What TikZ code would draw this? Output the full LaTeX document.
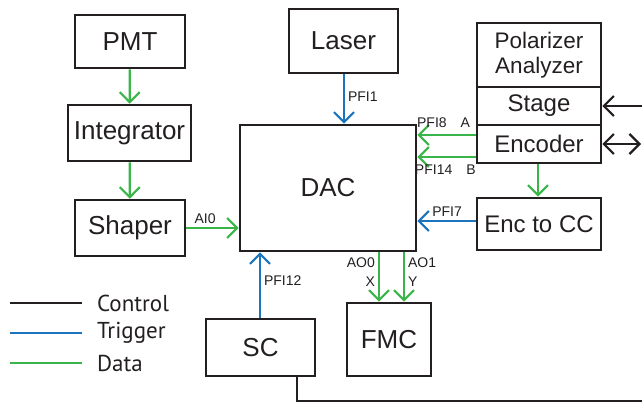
\documentclass[tikz,border=0pt]{standalone}
\usepackage{fontspec}
\setmainfont{Liberation Sans}
\newfontfamily\legendfont{PT Sans}
\usetikzlibrary{arrows.meta, positioning}
\definecolor{cblack}{HTML}{231F20}
\definecolor{cblue}{HTML}{1C75BC}
\definecolor{cgreen}{HTML}{39B54A}
\tikzset{
  every picture/.style={line width=2.2pt},
  box/.style={draw=cblack, line width=2.6pt, text=cblack, inner sep=0pt, align=center, font=\fontsize{26}{30}\selectfont},
  rbox/.style={box, minimum width=124pt, font=\fontsize{24}{27}\selectfont},
  tip/.style={-{Straight Barb[length=10pt, width=20pt]}},
  ctrl/.style={draw=cblack},
  trig/.style={draw=cblue, tip},
  data/.style={draw=cgreen, tip},
  note/.style={font=\fontsize{14}{17}\selectfont, text=cblack, inner sep=3pt},
  legend/.style={font=\legendfont\fontsize{23}{26}\selectfont, text=cblack, inner sep=0pt},
}

\begin{document}
\begin{tikzpicture}[x=1pt, y=-1pt]
  \useasboundingbox (0,0) rectangle (642,403);
  % left chain
  \node[box, minimum width=110pt, minimum height=53pt] (pmt) at (130,41.5) {PMT};
  \node[box, minimum width=123pt, minimum height=56pt] (integ) at (129.5,133) {Integrator};
  \node[box, minimum width=110pt, minimum height=56pt] (shaper) at (130,228) {Shaper};
  % centre
  \node[box, minimum width=176pt, minimum height=126pt] (dac) at (328,188) {DAC};
  \node[box, minimum width=109pt, minimum height=64pt] (laser) at (343.5,41) {Laser};
  \node[box, minimum width=109pt, minimum height=57pt] (sc) at (260.5,347.5) {SC};
  \node[box, minimum width=84pt, minimum height=73pt] (fmc) at (389,339.5) {FMC};
  % right stack
  \node[rbox, minimum height=64pt, font=\fontsize{22.5}{25}\selectfont] (polar) at (539,55) {Polarizer\\Analyzer};
  \node[rbox, minimum height=38pt] (stage) at (539,106) {Stage};
  \node[rbox, minimum height=38pt] (enc) at (539,144) {Encoder};
  \node[rbox, minimum height=52pt] (enccc) at (539,224) {Enc to CC};
  \coordinate (stagein) at (642,106);
  \coordinate (encout) at (641,144);
  \coordinate (scout) at (642,401);

  % data
  \draw[data] (pmt) -- (integ);
  \draw[data] (integ) -- (shaper);
  \draw[data] (shaper.east |- 0,228) -- node[note, above, pos=0.36] {AI0} (dac.west |- 0,228);
  \draw[data] ([yshift=9pt]enc.west) -- node[note, above, pos=0.55, yshift=3pt] {PFI8\quad A} ([yshift=9pt]enc.west -| dac.east);
  \draw[data] ([yshift=-13pt]enc.west) -- node[note, below, pos=0.52, yshift=-4pt] {PFI14\quad B} ([yshift=-13pt]enc.west -| dac.east);
  \draw[data] (enc.south -| 538,0) -- (enccc.north -| 538,0);
  \draw[data] ([xshift=-10pt]fmc.north |- dac.south) -- node[note, left, pos=0.4, align=right] {AO0\\[2pt]X} ([xshift=-10pt]fmc.north);
  \draw[data] ([xshift=15pt]fmc.north |- dac.south) -- node[note, right, pos=0.4, align=left] {AO1\\[2pt]Y} ([xshift=15pt]fmc.north);
  % trigger
  \draw[trig] (laser.south -| 344,0) -- node[note, right, pos=0.46] {PFI1} (dac.north -| 344,0);
  \draw[trig] ([yshift=3pt]enccc.west) -- node[note, above, pos=0.49] {PFI7} ([yshift=3pt]enccc.west -| dac.east);
  \draw[trig] (sc.north -| 260,0) -- node[note, right, pos=0.57] {PFI12} (dac.south -| 260,0);
  % control
  \draw[ctrl, tip] (stagein) -- (stage.east);
  \draw[ctrl, {Straight Barb[length=10pt, width=20pt]}-{Straight Barb[length=10pt, width=20pt]}] (enc.east) -- (encout);
  \draw[ctrl] (sc.south -| 297,0) |- (scout);

  % legend
  \node[legend, anchor=west] (lgctrl) at (96,303) {Control};
  \node[legend, anchor=west] (lgtrig) at (96,333) {Trigger};
  \node[legend, anchor=west] (lgdata) at (96,363) {Data};
  \draw[ctrl] ([xshift=-86pt]lgctrl.west) -- ([xshift=-14pt]lgctrl.west);
  \draw[draw=cblue] ([xshift=-86pt]lgtrig.west) -- ([xshift=-14pt]lgtrig.west);
  \draw[draw=cgreen] ([xshift=-86pt]lgdata.west) -- ([xshift=-14pt]lgdata.west);
\end{tikzpicture}
\end{document}
